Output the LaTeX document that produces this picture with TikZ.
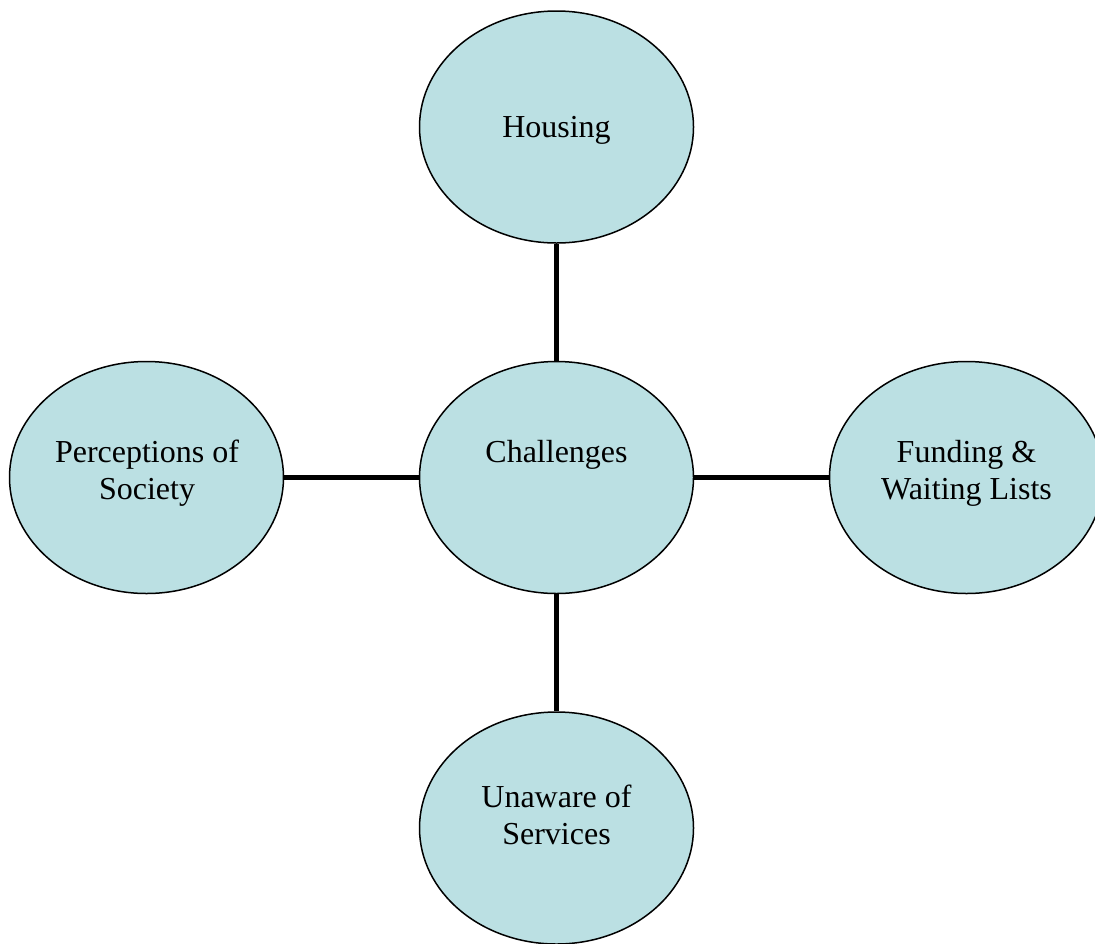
\documentclass[tikz,border=0pt]{standalone}
\usepackage{fontspec}
\setmainfont{Liberation Serif}
\usetikzlibrary{shapes.geometric}
\definecolor{bub}{HTML}{BBE0E3}
\begin{document}
\begin{tikzpicture}[x=1pt,y=-1pt,
  bubble/.style={ellipse, draw=black, line width=1.5pt, fill=bub, minimum width=274pt, minimum height=232pt, inner sep=0pt},
  txt/.style={anchor=base, font=\fontsize{32}{37}\selectfont, inner sep=0pt},
  link/.style={line width=4.5pt}]
\useasboundingbox (0,0) rectangle (1095,943);
\node[bubble] (hou) at (556.5,127) {};
\node[bubble] (ch) at (556.5,477.5) {};
\node[bubble] (per) at (146.5,477.5) {};
\node[bubble] (fun) at (966.5,477.5) {};
\node[bubble] (una) at (556.5,828) {};
\draw[link] (ch.north) -- (hou.south);
\draw[link] (ch.south) -- (una.north);
\draw[link] (ch.west) -- (per.east);
\draw[link] (ch.east) -- (fun.west);
\node[txt] (t1) at (556.5,137) {Housing};
\node[txt] (t2) at (556.5,462) {Challenges};
\node[txt] (t3) at (147,462) {Perceptions of};
\node[txt] (t4) at (147,499) {Society};
\node[txt] (t5) at (966.5,462) {Funding \&};
\node[txt] (t6) at (966.5,499) {Waiting Lists};
\node[txt] (t7) at (556.5,807) {Unaware of};
\node[txt] (t8) at (556.5,844) {Services};
\end{tikzpicture}
\end{document}
